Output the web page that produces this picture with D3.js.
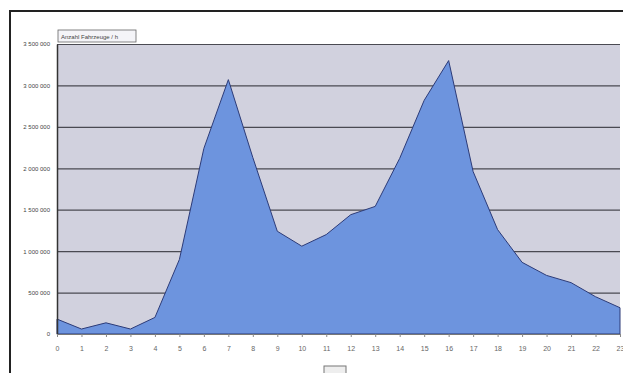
<!DOCTYPE html>
<meta charset="utf-8">
<script src="https://d3js.org/d3.v7.min.js"></script>
<style>
body { margin: 0; background: #fff; }
svg { display: block; font-family: "Liberation Sans", Arial, sans-serif; }
</style>
<div id="chart"></div>
<script>
// hours of the day
var hours = d3.range(0, 24);
// values
var counts = [180000, 60000, 135000, 60000, 200000, 900000, 2240000, 3070000,
              2130000, 1240000, 1060000, 1200000, 1440000, 1540000, 2120000, 2820000,
              3300000, 1960000, 1260000, 865000, 707000, 620000, 450000, 317000];
var yTicks = [0, 500000, 1000000, 1500000, 2000000, 2500000, 3000000, 3500000];
var legendLabel = "Anzahl Fahrzeuge / h";

var W = 623, H = 373;
var margin = { top: 44, right: 3, bottom: 39, left: 57 };
var width = W - margin.left - margin.right,
    height = H - margin.top - margin.bottom;

var svg = d3.select("#chart").append("svg")
    .attr("width", W).attr("height", H);

// outer frame
svg.append("rect")
    .attr("x", 10).attr("y", 11)
    .attr("width", 640).attr("height", 400)
    .attr("fill", "none")
    .attr("stroke", "#222")
    .attr("stroke-width", 2);

var g = svg.append("g")
    .attr("transform", "translate(" + margin.left + "," + margin.top + ")");

var x = d3.scaleLinear().domain([0, 23]).range([0, width]);
var y = d3.scaleLinear().domain([0, 3500000]).range([height, 0]);

// plot background
g.append("rect")
    .attr("width", width).attr("height", height)
    .attr("fill", "#d1d1de");

// grid lines
g.append("g")
    .call(d3.axisLeft(y).tickValues(yTicks).tickSize(-width).tickFormat(""))
    .call(function(s) { s.select(".domain").remove(); })
    .selectAll("line")
    .attr("stroke", "#4a4a52")
    .attr("stroke-width", 1.2);

var area = d3.area()
    .x(function(d, i) { return x(hours[i]); })
    .y0(height)
    .y1(function(d) { return y(d); });

g.append("path")
    .datum(counts)
    .attr("d", area)
    .attr("fill", "#6d94de")
    .attr("stroke", "#2c3b78")
    .attr("stroke-width", 1);

// y axis
var yAxis = g.append("g")
    .call(d3.axisLeft(y).tickValues(yTicks).tickSize(0).tickPadding(7)
        .tickFormat(function(d) { return d3.format(",")(d).replace(/,/g, " "); }));
yAxis.select(".domain").attr("stroke", "#333").attr("stroke-width", 1.5);
yAxis.selectAll("text").attr("font-size", "6px").attr("fill", "#444");

// x axis
var xAxis = g.append("g")
    .attr("transform", "translate(0," + height + ")")
    .call(d3.axisBottom(x).tickValues(hours).tickSize(3).tickPadding(9)
        .tickFormat(d3.format("d")));
xAxis.select(".domain").attr("stroke", "#777");
xAxis.selectAll("line").attr("stroke", "#888");
xAxis.selectAll("text").attr("font-size", "7px").attr("fill", "#666");

// legend box at top left of plot
var lg = svg.append("g").attr("transform", "translate(58,30)");
lg.append("rect")
    .attr("width", 78).attr("height", 12)
    .attr("fill", "#f4f4f8")
    .attr("stroke", "#666").attr("stroke-width", 0.8);
lg.append("text")
    .attr("x", 3).attr("y", 9)
    .attr("font-size", "6px").attr("fill", "#444")
    .text(legendLabel);

// small box under the chart
svg.append("rect")
    .attr("x", 324).attr("y", 366)
    .attr("width", 22).attr("height", 10)
    .attr("fill", "#eee")
    .attr("stroke", "#777").attr("stroke-width", 1);
</script>
